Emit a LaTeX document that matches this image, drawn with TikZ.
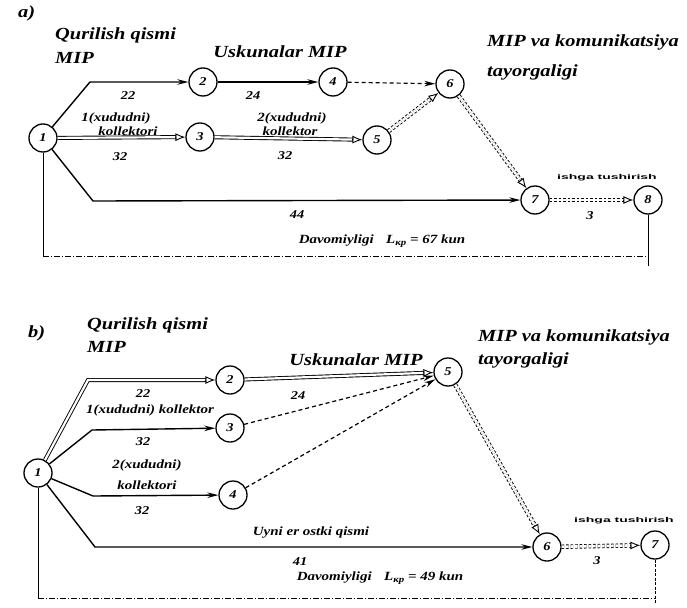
\documentclass[tikz,border=0pt]{standalone}
\usepackage{fontspec}
\setmainfont{Liberation Serif}
\newfontfamily\widefam[FakeStretch=1.2]{Liberation Serif}
\newfontfamily\tinyfam[FakeStretch=2.0]{Liberation Sans}
\usetikzlibrary{arrows.meta,calc}
\newcommand\otip[3]{\draw[otipst] ($(#2)!#3!(#1)$) -- (#2);}
\begin{document}
\begin{tikzpicture}[x=1pt,y=-1pt,
  ev/.style={circle,draw,line width=1.3pt,minimum size=28pt,inner sep=0pt,
    font=\fontsize{12}{12}\widefam\bfseries\itshape},
  work/.style={line width=1.4pt,-{Stealth[length=11pt,width=5.5pt]}},
  critline/.style={double,double distance=2.2pt,line width=0.9pt,shorten >=9pt},
  hatch/.style={double,double distance=2.6pt,line width=0.9pt,dash pattern=on 2.5pt off 2pt,shorten >=9pt},
  otipst/.style={line width=0.9pt,-{Latex[open,length=10pt,width=8pt]}},
  dsh/.style={line width=1.2pt,dash pattern=on 4pt off 3pt,-{Stealth[length=11pt,width=5.5pt]}},
  dim/.style={line width=0.7pt,dash pattern=on 6pt off 2pt on 1pt off 2pt},
  title/.style={font=\fontsize{17}{17}\widefam\bfseries\itshape,inner sep=0pt},
  lbl/.style={font=\fontsize{12.5}{12.5}\widefam\bfseries\itshape,inner sep=0pt},
  num/.style={font=\fontsize{12}{12}\widefam\bfseries\itshape,inner sep=0pt},
  tiny/.style={font=\fontsize{7}{7}\tinyfam\bfseries,inner sep=0pt}
]
\useasboundingbox (0,0) rectangle (687,607);
% ================= a) =================
\node[title,anchor=west] (ta) at (18,13) {a)};
\node[title,anchor=west] (qa1) at (55,35) {Qurilish qismi};
\node[title,anchor=west] (qa2) at (55,58) {MIP};
\node[title] (ua) at (280,52) {Uskunalar MIP};
\node[title,anchor=west] (ma1) at (487,42) {MIP va komunikatsiya};
\node[title,anchor=west] (ma2) at (487,72) {tayorgaligi};

\node[ev] (a1) at (43,138) {1};
\node[ev] (a2) at (203,82) {2};
\node[ev] (a4) at (333,82) {4};
\node[ev] (a6) at (450,84) {6};
\node[ev] (a3) at (200,137) {3};
\node[ev] (a5) at (377,140) {5};
\node[ev] (a7) at (535,200) {7};
\node[ev] (a8) at (648,200) {8};

\draw[work] (a1) -- (90,82) -- (a2);
\draw[work] (a2) -- (a4);
\draw[dsh] (a4) -- (a6);
\draw[critline] (a1) -- (a3);  \otip{a1}{a3}{25pt}
\draw[critline] (a3) -- (a5);  \otip{a3}{a5}{25pt}
\draw[hatch] (a5) -- (a6);     \otip{a5}{a6}{25pt}
\draw[hatch] (a6) -- (a7);     \otip{a6}{a7}{25pt}
\draw[work] (a1) -- (93,201) -- (a7);
\draw[hatch] (a7) -- (a8);     \otip{a7}{a8}{25pt}

\node[num] (la22) at (128,96) {22};
\node[num] (la24) at (253,96) {24};
\node[lbl] (la1k1) at (116,118) {1(xududni)};
\node[lbl] (la1k2) at (128,131) {kollektori};
\node[num] (la32a) at (120,157) {32};
\node[lbl] (la2k1) at (292,118) {2(xududni)};
\node[lbl] (la2k2) at (290,131) {kollektor};
\node[num] (la32b) at (285,156) {32};
\node[num] (la44) at (297,215) {44};
\node[num] (la3) at (590,216) {3};
\node[tiny] (lais) at (607,178) {ishga tushirish};

\node[lbl] (lada) at (382,241) {Davomiyligi\quad L\raisebox{-0.35ex}{\fontsize{9}{9}\selectfont кр} = 67 kun};
\coordinate (ad1) at (43,256);
\coordinate (ad2) at (648,256);
\coordinate (ad3) at (648,266);
\draw[line width=0.9pt] (a1) -- (ad1);
\draw[dim] (ad1) -- (ad2);
\draw[line width=0.9pt] (a8) -- (ad3);

% ================= b) =================
\node[title,anchor=west] (tb) at (28,333) {b)};
\node[title,anchor=west] (qb1) at (87,325) {Qurilish qismi};
\node[title,anchor=west] (qb2) at (87,347) {MIP};
\node[title] (ub) at (356,360) {Uskunalar MIP};
\node[title,anchor=west] (mb1) at (478,337) {MIP va komunikatsiya};
\node[title,anchor=west] (mb2) at (478,360) {tayorgaligi};

\node[ev] (b1) at (38,473) {1};
\node[ev] (b2) at (230,380) {2};
\node[ev] (b3) at (230,428) {3};
\node[ev] (b4) at (233,495) {4};
\node[ev] (b5) at (448,372) {5};
\node[ev] (b6) at (547,547) {6};
\node[ev] (b7) at (655,545) {7};
\coordinate (bk2) at (88,380);

\draw[critline] (b1) -- (bk2) -- (b2);  \otip{bk2}{b2}{25pt}
\draw[critline] (b2) -- (b5);           \otip{b2}{b5}{25pt}
\draw[work] (b1) -- (92,430) -- (b3);
\draw[dsh] (b3) -- (b5);
\draw[work] (b1) -- (93,496) -- (b4);
\draw[dsh] (b4) -- (b5);
\draw[hatch] (b5) -- (b6);              \otip{b5}{b6}{25pt}
\draw[work] (b1) -- (95,547) -- (b6);
\draw[hatch] (b6) -- (b7);              \otip{b6}{b7}{25pt}

\node[num] (lb22) at (143,394) {22};
\node[num] (lb24) at (298,396) {24};
\node[lbl] (lb1k) at (150,410) {1(xududni) kollektor};
\node[num] (lb32a) at (143,442) {32};
\node[lbl] (lb2k1) at (147,465) {2(xududni)};
\node[lbl] (lb2k2) at (147,485) {kollektori};
\node[num] (lb32b) at (142,511) {32};
\node[lbl] (lbuy) at (311,533) {Uyni er ostki qismi};
\node[num] (lb41) at (300,562) {41};
\node[num] (lb3) at (597,561) {3};
\node[tiny] (lbis) at (624,521) {ishga tushirish};

\node[lbl] (ldb) at (380,578) {Davomiyligi\quad L\raisebox{-0.35ex}{\fontsize{9}{9}\selectfont кр} = 49 kun};
\coordinate (bd1) at (38,598);
\coordinate (bd2) at (655,598);
\coordinate (bd3) at (655,604);
\draw[line width=0.9pt] (b1) -- (bd1);
\draw[dim] (bd1) -- (bd2);
\draw[line width=0.7pt,dash pattern=on 3pt off 1.5pt] (b7) -- (bd3);
\end{tikzpicture}
\end{document}
